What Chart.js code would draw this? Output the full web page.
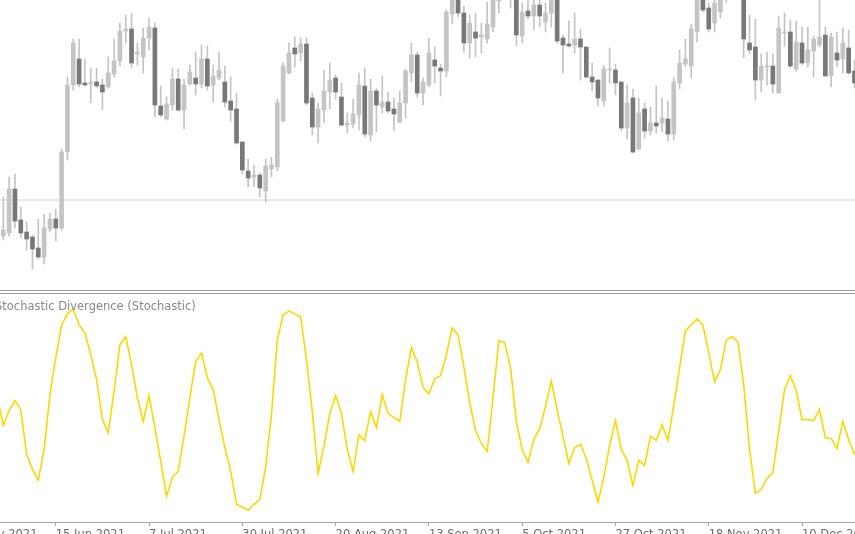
<!DOCTYPE html>
<html><head><meta charset="utf-8">
<script src="https://cdn.jsdelivr.net/npm/chart.js@4.4.0/dist/chart.umd.min.js"></script>
<style>
html,body{margin:0;padding:0;width:855px;height:534px;overflow:hidden;background:#fff;}
#wrap{position:relative;width:855px;height:534px;overflow:hidden;background:#fff;}
#c1{position:absolute;left:-45px;top:0;}
#c2{position:absolute;left:-45px;top:294px;}
.sep{position:absolute;left:0;width:855px;height:1px;background:#9a9a9a;}
#lbl{position:absolute;left:-5px;top:300px;font-family:"DejaVu Sans";font-size:11.5px;line-height:13px;color:#8a8a8a;white-space:nowrap;}
</style></head><body>
<div id="wrap">
<canvas id="c1" width="960" height="290"></canvas>
<div class="sep" style="top:290px"></div>
<div class="sep" style="top:293px"></div>
<canvas id="c2" width="960" height="250"></canvas>
<div id="lbl">Stochastic Divergence (Stochastic)</div>
</div>
<script>
// ---- data (price units of the upper panel; stochastic 0..100) ----
const opens  = [58,54,57,101,70,58,53,42,33,61,71,62,138,205,231,207,206,208,205,203,216,229,259,261,236,233,252,262,184,171,185,211,180,206,212,206,231,205,212,208,189,181,148,119,113,115,99,121,123,169,217,242,237,246,192,163,180,198,212,193,165,166,175,204,155,199,183,188,181,168,187,217,235,197,205,230,222,219,276,293,277,247,258,253,251,263,289,296,302,293,254,279,274,285,268,277,294,252,246,245,251,243,213,210,189,220,220,208,162,192,141,181,159,167,167,171,156,207,226,224,258,295,282,267,278,293,300,306,294,247,243,210,223,224,197,257,258,221,247,227,239,245,255,214,237,231,242,219];
const highs  = [95,93,113,116,83,68,55,71,76,77,81,141,213,251,251,231,222,222,211,233,251,267,275,277,247,262,272,267,204,193,222,221,211,225,238,245,244,225,238,224,213,197,148,131,125,117,131,133,191,227,247,253,252,252,197,187,220,227,215,207,177,191,217,222,211,202,214,198,192,199,221,247,238,212,252,243,226,280,298,296,284,275,277,267,288,296,302,308,308,296,287,292,293,292,287,298,297,255,269,277,261,243,227,210,224,242,226,208,205,201,192,187,183,204,192,189,212,240,251,266,297,299,287,292,297,305,310,312,298,275,271,236,238,236,274,277,270,269,263,263,254,290,263,257,258,262,260,230];
const lows   = [50,50,54,62,52,40,21,31,26,58,49,60,130,200,203,204,187,203,180,202,213,224,247,222,225,217,240,173,173,170,180,179,161,205,195,202,200,188,210,183,169,146,116,103,103,93,88,113,119,168,216,223,229,185,155,147,167,181,191,164,157,162,160,153,149,158,177,177,159,167,172,208,193,185,203,207,194,213,266,273,238,232,233,237,247,258,277,291,282,244,247,271,260,263,258,263,247,217,243,237,210,212,199,184,184,207,195,159,151,137,140,152,155,157,158,149,150,201,223,212,248,278,258,258,272,288,296,291,232,236,190,198,205,197,197,244,222,219,225,223,213,243,214,203,223,217,216,202];
const closes = [64,60,101,69,57,51,41,33,62,71,62,138,205,247,206,205,208,204,198,217,229,259,261,227,238,252,263,185,175,186,211,180,205,218,206,231,204,214,220,188,180,147,120,112,115,102,124,125,187,224,237,236,246,187,163,181,199,210,198,165,167,176,205,156,199,185,188,179,176,187,219,235,197,208,237,224,219,278,293,277,247,267,252,255,266,292,296,302,293,255,278,274,285,274,277,294,249,245,244,251,243,213,208,192,221,221,207,162,187,138,177,159,167,164,172,156,208,227,231,261,293,280,261,287,293,300,306,294,251,240,210,224,224,206,262,258,224,248,227,240,251,253,214,253,230,247,217,207];
const stochValues = [54.8,42.5,49.1,53.5,49.5,29.8,23.2,18.4,32.0,56.1,72.3,86.8,91.7,93.9,86.8,83.3,73.7,62.7,45.1,39.4,57.4,78.1,81.6,69.3,54.8,44.3,55.7,41.6,26.7,11.3,19.7,22.3,37.7,54.8,70.6,74.5,63.6,58.3,45.1,32.8,22.3,7.8,6.5,5.2,7.8,10.0,24.1,47.3,80.2,91.2,93.0,91.7,90.3,71.5,48.6,21.4,33.3,47.8,55.7,47.8,32.0,22.3,38.5,35.9,48.6,41.6,56.1,47.8,46.0,44.3,62.7,76.7,70.6,59.2,56.5,63.1,64.4,73.7,85.5,82.4,68.4,52.6,40.3,34.6,31.1,54.8,79.8,78.9,68.0,44.3,32.0,26.3,36.3,41.2,50.8,62.2,49.5,37.7,25.8,32.8,34.2,28.0,18.4,8.7,19.7,33.7,44.7,32.0,27.1,16.2,27.1,24.9,37.7,35.9,42.9,35.9,51.3,68.0,84.2,86.8,89.5,86.8,74.5,61.8,67.1,80.2,81.6,79.4,60.5,32.0,12.6,14.4,19.2,21.9,39.9,58.3,64.4,57.9,45.1,45.1,44.7,49.5,37.2,36.8,32.4,44.3,36.3,29.8];
const levelValue = 90;
const tickBars   = [-6,10,26,42,58,74,90,106,122,138];
const tickLabels = ['24 May 2021','15 Jun 2021','7 Jul 2021','30 Jul 2021','20 Aug 2021','13 Sep 2021','5 Oct 2021','27 Oct 2021','18 Nov 2021','10 Dec 2021'];

// ---- layout ----
const CANVAS_W = 960, CANVAS_SHIFT = 45, BAR0_PX = -2.53, BAR_STEP = 5.83;
const X_MIN = -(BAR0_PX + CANVAS_SHIFT) / BAR_STEP;
const X_MAX = X_MIN + CANVAS_W / BAR_STEP;
const LIGHT = '#c4c4c4', DARK = '#787878', WICK = '#c4c4c4';

const bodies = opens.map((o,k)=>({x:k, y:[o, closes[k]]}));
const wicks  = highs.map((h,k)=>({x:k, y:[lows[k], h]}));
const bodyColors = opens.map((o,k)=> closes[k] >= o ? LIGHT : DARK);

new Chart(document.getElementById('c1'), {
  type:'bar',
  data:{datasets:[
    {type:'line', data:[{x:X_MIN,y:levelValue},{x:X_MAX,y:levelValue}], borderColor:'#e2e2e2', borderWidth:1.5, pointRadius:0, order:3},
    {data:wicks, backgroundColor:WICK, barThickness:1, grouped:false, order:2},
    {data:bodies, backgroundColor:bodyColors, barThickness:4, grouped:false, order:1}
  ]},
  options:{
    responsive:false, animation:false, events:[],
    layout:{padding:0, autoPadding:false},
    plugins:{legend:{display:false}, tooltip:{enabled:false}},
    scales:{
      x:{type:'linear', min:X_MIN, max:X_MAX, offset:false, display:false},
      y:{min:0, max:290, display:false}
    }
  }
});

new Chart(document.getElementById('c2'), {
  type:'line',
  data:{datasets:[{data:stochValues.map((v,k)=>({x:k,y:v})), borderColor:'#FFD700', borderWidth:1.6, pointRadius:0, tension:0, fill:false}]},
  options:{
    responsive:false, animation:false, events:[],
    layout:{padding:{top:1,left:0,right:0,bottom:0}, autoPadding:false},
    plugins:{legend:{display:false}, tooltip:{enabled:false}},
    scales:{
      x:{type:'linear', min:X_MIN, max:X_MAX, offset:false,
        afterBuildTicks:(s)=>{ s.ticks = tickBars.map(v=>({value:v})); },
        ticks:{autoSkip:false, maxRotation:0, minRotation:0, align:'start', padding:2.1, color:'#6e6e6e',
               font:{family:'DejaVu Sans', size:11.5}, callback:(v,i)=>tickLabels[i]},
        grid:{drawOnChartArea:false, drawTicks:true, tickLength:4, color:'#a6a6a6', lineWidth:1},
        border:{display:true, color:'#a6a6a6', width:1}
      },
      y:{min:0, max:100, display:false}
    }
  }
});
</script>
</body></html>
